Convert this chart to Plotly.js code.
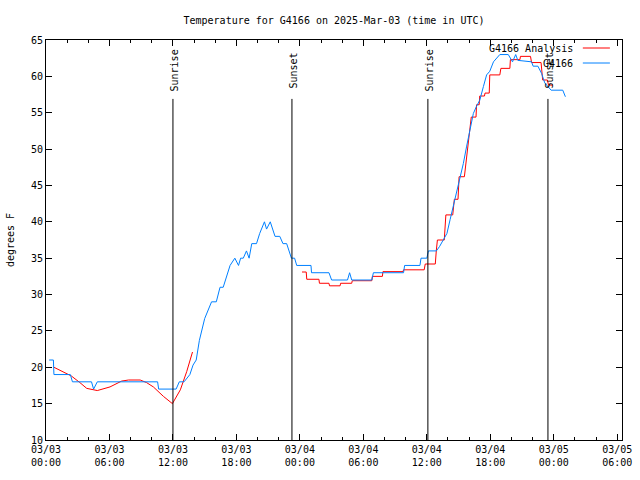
<!DOCTYPE html>
<html><head><meta charset="utf-8">
<script src="https://cdn.plot.ly/plotly-3.0.1.min.js"></script>
<style>html,body{margin:0;padding:0;background:#fff}#chart{width:640px;height:480px}</style>
</head><body><div id="chart"></div>
<script>
// Hours after 2025-03-03 00:00 UTC
const obsHours = [0.3,0.7,0.75,2.3,2.5,4.3,4.5,4.85,10.55,10.65,12.3,12.6,13.05,13.6,13.9,14.2,14.5,15.0,15.65,16.1,16.45,16.75,17.4,17.85,18.2,18.4,18.65,18.95,19.2,19.45,19.9,20.2,20.65,20.85,21.2,21.65,22.1,22.4,22.75,23.2,23.5,23.7,25.05,25.1,26.75,27.0,28.5,28.7,28.9,30.8,30.95,33.8,33.9,35.35,35.45,36.0,36.15,36.9,37.2,37.55,37.9,38.2,38.5,38.8,39.1,39.45,39.75,40.1,40.4,40.7,41.0,41.35,41.65,41.95,42.3,42.9,43.7,44.1,44.4,44.6,45.9,46.05,46.5,46.85,47.15,47.75,48.85,49.1];
const obsTemps = [21,21,19,19,18,18,17,18,18,17,17,18,18,19,20.3,21,23.7,26.7,29,29,31,31,34,35,34,35,35,36,35,37,37,38.4,40,39,40,38,38,37,37,35,35,34,34,33,33,32,32,33,32,32,33,33,34,34,35,35,36,36,36.6,37.6,38.4,40.3,42.1,43.9,45.8,48,50.3,52.6,54.9,55.9,56.7,58.6,60.2,60.7,62,63,63,62,63,62.2,62,61.4,61.4,60.4,59.1,58.1,58.1,57.2];

const anaHours = [0.75,1.5,2.4,3.2,3.85,4.85,6.05,7.15,7.8,8.9,9.5,10.15,11.1,11.95,12.7,13.3,13.85,null,24.2,24.6,24.65,25.8,25.85,26.75,26.8,27.8,27.85,28.9,28.95,30.8,30.85,31.8,31.85,33.75,33.8,35.75,35.85,36.8,36.9,37.0,37.65,37.8,38.45,38.6,38.95,39.05,39.55,39.9,40.2,40.65,40.7,40.95,41.0,41.45,41.5,41.9,41.95,42.9,43.0,43.85,43.9,44.8,44.85,45.8,45.9,46.8,46.95,47.4,47.5,47.9];
const anaTemps = [20,19.5,18.8,17.9,17.1,16.8,17.3,18.1,18.25,18.25,17.9,17.3,16,15,16.9,19.4,22.1,null,33.1,33.1,32.1,32.1,31.55,31.55,31.2,31.2,31.55,31.55,31.9,31.9,32.5,32.5,33.15,33.15,33.4,33.4,34.2,34.2,36.1,37.5,37.5,40.95,40.95,43.1,43.1,46.2,46.2,50.35,54.4,54.4,56.1,56.1,57.3,57.3,57.7,57.7,60.2,60.2,61.1,61.1,62.3,62.3,62.75,62.75,61.9,61.9,59.5,59.5,58.8,58.8];

const sunHours = [12.0, 23.25, 36.1, 47.45];
const sunLabels = ['Sunrise','Sunset','Sunrise','Sunset'];
const sunLineTop = 56.9;
const sunLabelY = 60.8;

const seriesNames = ['G4166 Analysis','G4166'];
const titleText = 'Temperature for G4166 on 2025-Mar-03 (time in UTC)';

const base = Date.UTC(2025,2,3,0,0,0);
function toDate(h){
  if(h===null) return null;
  return new Date(base + h*3600000).toISOString().slice(0,19).replace('T',' ');
}

const font = {family:'DejaVu Sans Mono, monospace', size:10, color:'#000'};
const RED = 'rgb(255,0,0)', BLUE = 'rgb(0,128,255)';

const traces = [
  {x: anaHours.map(toDate), y: anaTemps, type:'scatter', mode:'lines', name: seriesNames[0],
   line:{color:RED, width:1}, connectgaps:false, showlegend:false},
  {x: obsHours.map(toDate), y: obsTemps, type:'scatter', mode:'lines', name: seriesNames[1],
   line:{color:BLUE, width:1}, showlegend:false}
];

const shapes = sunHours.map(h => ({type:'line', xref:'x', yref:'y', x0:toDate(h), x1:toDate(h), y0:10, y1:sunLineTop,
  line:{color:'#000', width:1}}));
const annotations = sunHours.map((h,i) => ({xref:'x', yref:'y', x:toDate(h), y:sunLabelY, text:sunLabels[i],
  textangle:-90, showarrow:false, font:font, xshift:2}));

// manual legend (text left, sample right)
const legRows = [0.98, 0.9425];
const legColors = [RED, BLUE];
seriesNames.forEach((n,i) => {
  annotations.push({xref:'paper', yref:'paper', x:0.918, y:legRows[i], xanchor:'right', yanchor:'middle',
    text:n, showarrow:false, font:font});
  shapes.push({type:'line', xref:'paper', yref:'paper', x0:0.932, x1:0.979, y0:legRows[i], y1:legRows[i],
    line:{color:legColors[i], width:1}});
});

const layout = {
  width:640, height:480,
  margin:{l:46, r:18, t:40, b:40, pad:0},
  paper_bgcolor:'#fff', plot_bgcolor:'#fff',
  font:font,
  title:{text:titleText, font:font, x:0.5, xref:'paper', y:1-20/480, yref:'container', yanchor:'middle'},
  xaxis:{type:'date', range:[toDate(0), toDate(54.45)], tick0:toDate(0), dtick:6*3600000,
    tickformat:'%m/%d<br>%H:%M', ticks:'inside', ticklen:6, tickcolor:'#000',
    minor:{dtick:2*3600000, ticks:'inside', ticklen:3, tickcolor:'#000'},
    showline:true, linecolor:'#000', linewidth:1, mirror:'ticks', showgrid:false, zeroline:false,
    tickfont:font, fixedrange:true},
  yaxis:{range:[10,65], dtick:5, tick0:10, ticks:'inside', ticklen:6, tickcolor:'#000',
    showline:true, linecolor:'#000', linewidth:1, mirror:'ticks', showgrid:false, zeroline:false,
    tickfont:font, title:{text:'degrees F', font:font, standoff:14}},
  shapes:shapes, annotations:annotations, showlegend:false
};

Plotly.newPlot('chart', traces, layout, {staticPlot:true});
</script></body></html>
